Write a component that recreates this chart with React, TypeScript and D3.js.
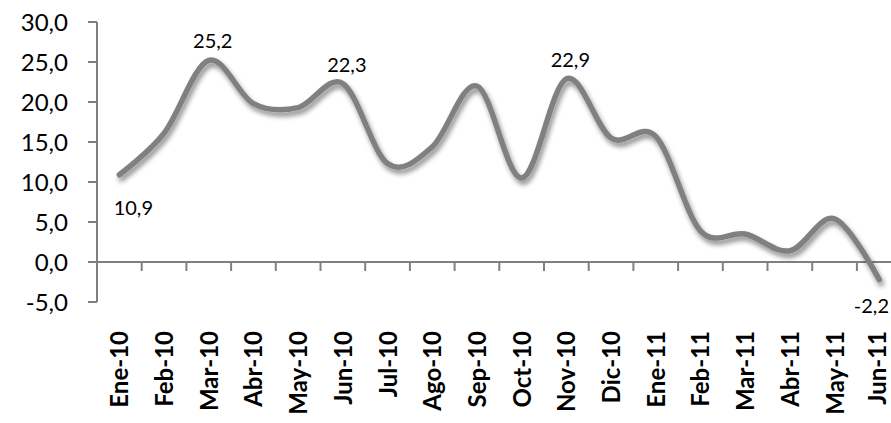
import React from "react";
import * as d3 from "d3";

const categories = [
  "Ene-10", "Feb-10", "Mar-10", "Abr-10", "May-10", "Jun-10", "Jul-10", "Ago-10", "Sep-10",
  "Oct-10", "Nov-10", "Dic-10", "Ene-11", "Feb-11", "Mar-11", "Abr-11", "May-11", "Jun-11",
];
const values = [10.9, 16.1, 25.2, 19.8, 19.3, 22.3, 12.3, 14.4, 22.0, 10.5, 22.9, 15.5, 15.7, 3.9, 3.5, 1.4, 5.4, -2.2];
const labeledIdx = [0, 2, 5, 10, 17];
const yTicks = [-5, 0, 5, 10, 15, 20, 25, 30];

const W = 891;
const H = 423;
const left = 97;
const step = 44.7;
const fmt = (v: number) => v.toFixed(1).replace(".", ",");

export default function App() {
  const x = d3
    .scaleBand<string>()
    .domain(categories)
    .range([left, left + step * categories.length])
    .paddingInner(0)
    .paddingOuter(0);
  const y = d3.scaleLinear().domain([-5, 30]).range([302, 22]);
  const cx = (c: string) => (x(c) as number) + x.bandwidth() / 2;

  const line = d3
    .line<number>()
    .x((_, i) => cx(categories[i]))
    .y((d) => y(d))
    .curve(d3.curveCardinal.tension(0));

  const font = "Lato, 'Open Sans', sans-serif";
  const axisColor = "#808080";

  return (
    <svg
      width={W}
      height={H}
      style={{ position: "absolute", left: 0, top: 0, background: "#fff" }}
      fontFamily={font}
    >
      <defs>
        <filter id="sh" x="-10%" y="-20%" width="120%" height="140%">
          <feDropShadow dx="2" dy="4" stdDeviation="2.5" floodColor="#000" floodOpacity="0.45" />
        </filter>
      </defs>
      {/* y axis */}
      <line x1={left} x2={left} y1={y(30)} y2={y(-5)} stroke={axisColor} strokeWidth={2} />
      {yTicks.map((t) => (
        <g key={t}>
          <line x1={left - 9} x2={left} y1={y(t)} y2={y(t)} stroke={axisColor} strokeWidth={2} />
          <text x={68} y={y(t)} dy="0.36em" textAnchor="end" fontSize={24} fill="#000">
            {fmt(t)}
          </text>
        </g>
      ))}
      {/* x axis */}
      <line x1={left} x2={W + 10} y1={y(0)} y2={y(0)} stroke={axisColor} strokeWidth={2} />
      {categories.slice(1).map((c) => (
        <line
          key={c}
          x1={x(c) as number}
          x2={x(c) as number}
          y1={y(0)}
          y2={y(0) + 9}
          stroke={axisColor}
          strokeWidth={2}
        />
      ))}
      {categories.map((c, i) => (
        <text
          key={c}
          transform={`translate(${cx(c) + (i === categories.length - 1 ? 7 : 9)},331) rotate(-90)`}
          textAnchor="end"
          fontSize={24}
          fontWeight="bold"
          fill="#000"
        >
          {c}
        </text>
      ))}
      {/* line */}
      <path d={line(values) || ""} fill="none" stroke="#808080" strokeWidth={5.5} strokeLinecap="round" filter="url(#sh)" />
      {/* data labels */}
      {labeledIdx.map((i) => {
        const v = values[i];
        const px = cx(categories[i]);
        const py = y(v);
        let lx = px + 4;
        let ly = py - 12;
        let anchor = "middle";
        if (i === 0) {
          lx = px + 14;
          ly = py + 40;
        } else if (i === categories.length - 1) {
          lx = W - 2;
          ly = py + 33;
          anchor = "end";
        }
        return (
          <text key={i} x={lx} y={ly} textAnchor={anchor} fontSize={20} fill="#000">
            {fmt(v)}
          </text>
        );
      })}
    </svg>
  );
}
